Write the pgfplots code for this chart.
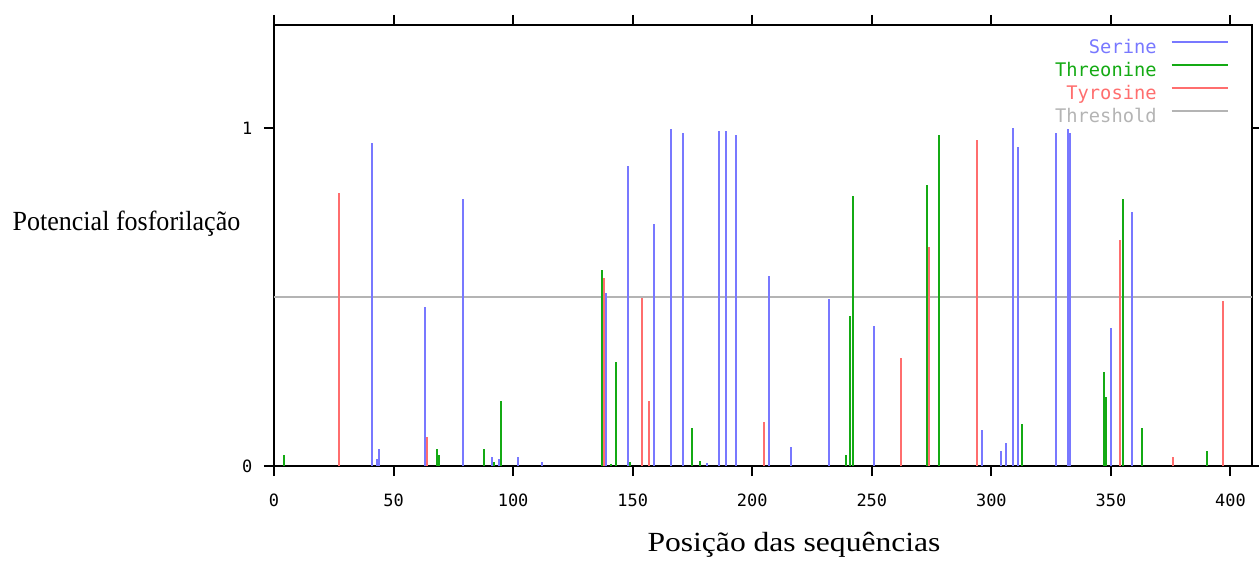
\documentclass[border=0pt]{standalone}
\usepackage{pgfplots}
\pgfplotsset{compat=1.18}
\usepackage{pgfplotstable}
\usepackage{fontspec}
\setmainfont{Liberation Serif}
\newfontfamily\monofont{DejaVu Sans Mono}
\definecolor{serblue}{RGB}{120,120,255}
\definecolor{thrgreen}{RGB}{20,170,20}
\definecolor{tyrred}{RGB}{255,110,110}
\definecolor{thrgray}{RGB}{180,180,180}

\pgfplotstableread{
x y
41 0.955
43 0.02
44 0.051
63 0.47
79 0.789
91 0.026
94 0.02
102 0.026
112 0.013
139 0.511
148 0.888
159 0.715
166 0.997
171 0.986
181 0.008
186 0.992
189 0.992
193 0.98
207 0.561
216 0.057
232 0.493
251 0.413
296 0.107
304 0.044
306 0.069
309 1.0
311 0.943
327 0.985
332 0.997
333 0.985
350 0.407
359 0.751
}\serine

\pgfplotstableread{
x y
4 0.032
68 0.051
69 0.032
88 0.051
92 0.013
95 0.192
137 0.58
141 0.005
143 0.309
149 0.013
175 0.111
178 0.015
239 0.032
241 0.444
242 0.80
273 0.831
278 0.979
313 0.124
347 0.277
348 0.203
355 0.789
363 0.111
390 0.044
}\threonine

\pgfplotstableread{
x y
27 0.807
64 0.087
138 0.555
154 0.497
157 0.192
205 0.131
262 0.32
274 0.647
294 0.966
354 0.67
376 0.026
397 0.487
}\tyrosine

\pgfplotsset{mylegend/.style={legend image code/.code={\draw[##1] (0bp,2.5bp) -- (28bp,2.5bp);}}}

\begin{document}
\begin{tikzpicture}
\begin{axis}[
  scale only axis, width=489bp, height=220.5bp,
  xmin=0, xmax=409, ymin=0, ymax=1.305,
  xtick={0,50,...,400}, ytick={0,1},
  xtick pos=both, ytick pos=both,
  xticklabel pos=lower, yticklabel pos=left,
  tick align=outside, major tick length=5bp,
  axis line style={line width=1.2bp, black},
  every tick/.style={black, line width=1bp},
  /pgf/number format/assume math mode=true,
  tick label style={font=\monofont\fontsize{8.5}{10}\selectfont, inner sep=0pt},
  xticklabel style={anchor=north, yshift=-9bp},
  yticklabel style={anchor=east, xshift=-5.6bp},
  xlabel={Posição das sequências},
  ylabel={Potencial fosforilação},
  every axis x label/.style={at={(rel axis cs:0.5317,0)}, anchor=base, inner sep=0pt, yshift=-42.85bp, xscale=1.14, font=\fontsize{13.9}{16}\selectfont},
  every axis y label/.style={at={(rel axis cs:0,0.535)}, anchor=base east, inner sep=0pt, xshift=-16.65bp, xscale=0.94, font=\fontsize{13.9}{16}\selectfont},
  legend plot pos=right, legend cell align=right,
  legend style={at={(rel axis cs:1,1)}, anchor=north east, xshift=-11.5bp, yshift=-7.15bp,
    draw=none, fill=none, inner sep=0pt, row sep=4.65bp, column sep=7bp,
    nodes={font=\monofont\fontsize{9.4}{11}\selectfont, inner sep=0pt, text height=6.85bp, text depth=0pt}},
]
\addplot[thrgray, line width=1.2bp, forget plot] coordinates {(0,0.5) (409,0.5)};
\addplot[ycomb, serblue, line width=1bp, mark=none, forget plot] table[x=x,y=y] {\serine};
\addplot[ycomb, thrgreen, line width=1bp, mark=none, forget plot] table[x=x,y=y] {\threonine};
\addplot[ycomb, tyrred, line width=1bp, mark=none, forget plot] table[x=x,y=y] {\tyrosine};
\addlegendimage{mylegend, serblue, line width=1bp}
\addlegendentry{\textcolor{serblue}{Serine}}
\addlegendimage{mylegend, thrgreen, line width=1bp}
\addlegendentry{\textcolor{thrgreen}{Threonine}}
\addlegendimage{mylegend, tyrred, line width=1bp}
\addlegendentry{\textcolor{tyrred}{Tyrosine}}
\addlegendimage{mylegend, thrgray, line width=1bp}
\addlegendentry{\textcolor{thrgray}{Threshold}}
\end{axis}
\pgfresetboundingbox
\path[use as bounding box] (-137bp,-47.5bp) rectangle (492.5bp,233bp);
\end{tikzpicture}
\end{document}
